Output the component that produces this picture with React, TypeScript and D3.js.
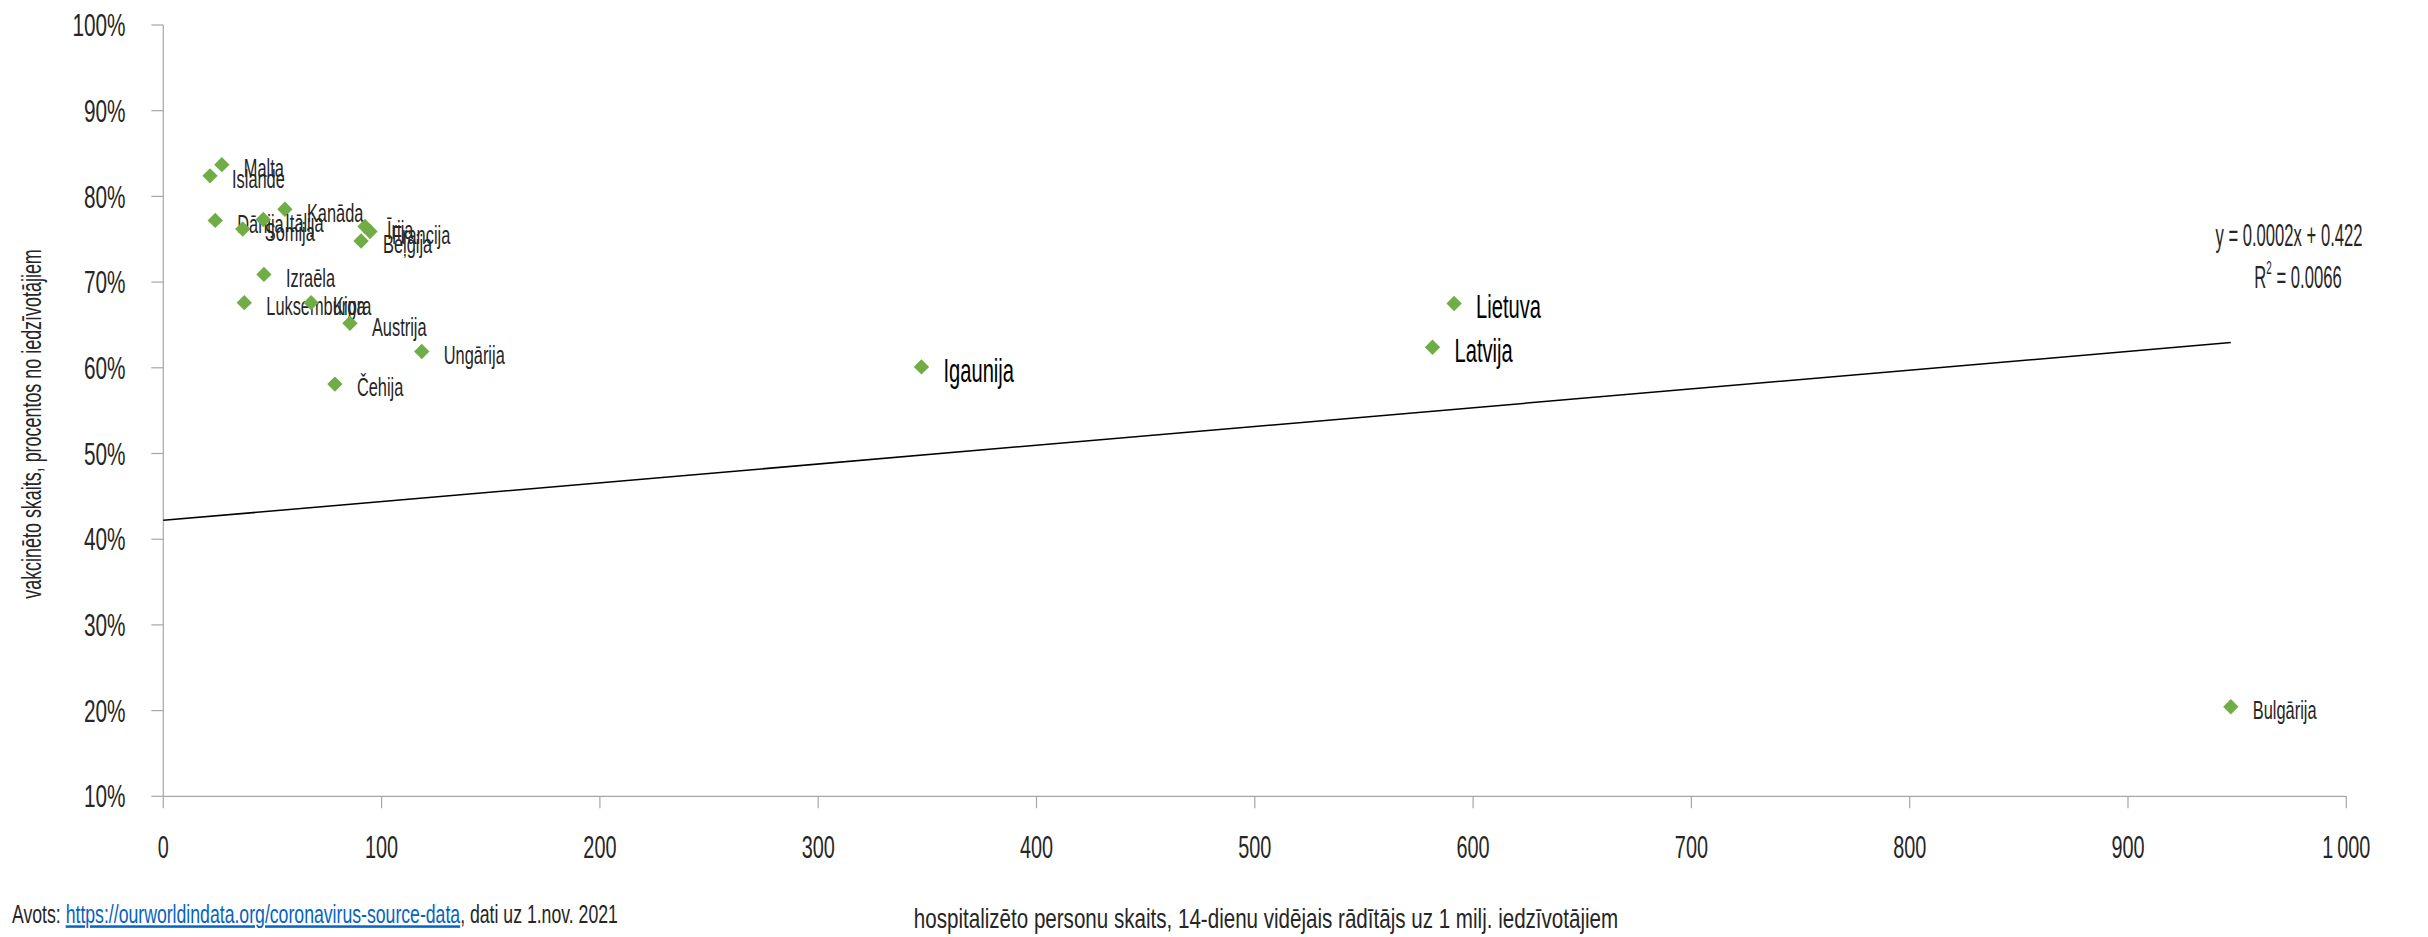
import React from "react";
import * as d3 from "d3";

const countries = ["Malta", "Islande", "Kanāda", "Dānija", "Itālija", "Somija", "Īrija", "Francija", "Beļģija", "Izraēla", "Luksemburga", "Kipra", "Austrija", "Ungārija", "Čehija", "Igaunija", "Lietuva", "Latvija", "Bulgārija"];
const hospitalized = [26.8, 21.4, 55.7, 23.8, 45.8, 36.4, 92.4, 94.7, 90.6, 46.1, 37.1, 67.7, 85.5, 118.4, 78.6, 347.3, 591.3, 581.4, 947.1];
const vaccinated = [0.837, 0.824, 0.785, 0.772, 0.773, 0.762, 0.765, 0.759, 0.748, 0.709, 0.676, 0.676, 0.652, 0.619, 0.581, 0.601, 0.675, 0.624, 0.2045];
const highlighted = ["Igaunija", "Lietuva", "Latvija"];
const xTicks = [0, 100, 200, 300, 400, 500, 600, 700, 800, 900, 1000];
const yTicks = [0.1, 0.2, 0.3, 0.4, 0.5, 0.6, 0.7, 0.8, 0.9, 1.0];
const trendIntercept = 0.422;
const trendSlope = 0.000219;
const equationText = "y = 0.0002x + 0.422";
const r2Text = "0.0066";
const xTitle = "hospitalizēto personu skaits, 14-dienu vidējais rādītājs uz 1 milj. iedzīvotājiem";
const yTitle = "vakcinēto skaits, procentos no iedzīvotājiem";
const sourceLabel = "Avots: ";
const sourceUrl = "https://ourworldindata.org/coronavirus-source-data";
const sourceTail = ", dati uz 1.nov. 2021";

const W = 2428;
const H = 937;
const FONT = "'Liberation Sans', Arial, sans-serif";
const SX = 0.64;

function CText(props: {
  x: number; y: number; size: number; anchor?: string; sx?: number; fill?: string;
  weight?: string | number; rotate?: number; children: React.ReactNode; font?: string;
}) {
  const { x, y, size, anchor = "start", sx = SX, fill = "#262626", weight = 400, rotate = 0, children, font = FONT } = props;
  return (
    <text
      transform={`translate(${x},${y}) rotate(${rotate}) scale(${sx},1)`}
      fontFamily={font}
      fontSize={size}
      fontWeight={weight}
      textAnchor={anchor}
      dy="0.36em"
      fill={fill}
    >
      {children}
    </text>
  );
}

export default function App() {
  const x = d3.scaleLinear().domain([0, 1000]).range([163.3, 2346.3]);
  const y = d3.scaleLinear().domain([0.1, 1.0]).range([796.3, 25]);
  const fmtX = (v: number) => (v >= 1000 ? d3.format(",")(v).replace(",", "\u2009") : String(v));
  const fmtY = d3.format(".0%");

  const maxX = d3.max(hospitalized) as number;
  const trendLine = d3.line<number>()
    .x((d) => x(d))
    .y((d) => y(trendIntercept + trendSlope * d));
  const diamond = d3.symbol().type(d3.symbolDiamond2 ?? d3.symbolDiamond).size(150)();

  const axisColor = "#A6A6A6";

  return (
    <svg width={W} height={H} style={{ position: "absolute", left: 0, top: 0, background: "#fff" }}>
      {/* axes */}
      <line x1={x(0)} x2={x(1000)} y1={y(0.1)} y2={y(0.1)} stroke={axisColor} strokeWidth={1.2} />
      <line x1={x(0)} x2={x(0)} y1={y(0.1)} y2={y(1)} stroke={axisColor} strokeWidth={1.2} />
      {yTicks.map((t) => (
        <g key={"y" + t}>
          <line x1={x(0) - 12} x2={x(0)} y1={y(t)} y2={y(t)} stroke={axisColor} strokeWidth={1.2} />
          <CText x={125.5} y={y(t)} size={31} anchor="end" sx={0.67}>{fmtY(t)}</CText>
        </g>
      ))}
      {xTicks.map((t) => (
        <g key={"x" + t}>
          <line x1={x(t)} x2={x(t)} y1={y(0.1)} y2={y(0.1) + 12} stroke={axisColor} strokeWidth={1.2} />
          <CText x={x(t)} y={847} size={31} anchor="middle">{fmtX(t)}</CText>
        </g>
      ))}

      {/* trend line */}
      <path d={trendLine([0, maxX]) || ""} fill="none" stroke="#000" strokeWidth={1.5} />
      <CText x={2289} y={234} size={32} anchor="middle" sx={0.52} fill="#262626">{equationText}</CText>
      <text
        transform={`translate(2298,276) scale(0.52,1)`}
        fontFamily={FONT}
        fontSize={32}
        textAnchor="middle"
        dy="0.36em"
        fill="#262626"
      >
        R<tspan fontSize={19} dy="-0.7em">2</tspan>
        <tspan dy="0.42em"> = {r2Text}</tspan>
      </text>

      {/* points */}
      {countries.map((c, i) => {
        const hl = highlighted.includes(c);
        const px = x(hospitalized[i]);
        const py = y(vaccinated[i]);
        return (
          <g key={c}>
            <path d={diamond || ""} transform={`translate(${px},${py})`} fill="#70AD47" />
            {hl ? (
              <CText x={px + 22} y={py + 3} size={33} sx={0.61} fill="#000" weight={500}>{c}</CText>
            ) : (
              <CText x={px + 22} y={py + 3} size={26} sx={0.63} fill="#262626">{c}</CText>
            )}
          </g>
        );
      })}

      {/* axis titles */}
      <CText x={31} y={424} size={28} anchor="middle" rotate={-90} sx={0.64}>{yTitle}</CText>
      <CText x={1266} y={918} size={28} anchor="middle" sx={0.735}>{xTitle}</CText>

      {/* source */}
      <text transform={`translate(12,914) scale(0.707,1)`} fontFamily={FONT} fontSize={25} dy="0.36em" fill="#262626">
        {sourceLabel}
        <tspan fill="#0563C1" textDecoration="underline">{sourceUrl}</tspan>
        {sourceTail}
      </text>
    </svg>
  );
}
